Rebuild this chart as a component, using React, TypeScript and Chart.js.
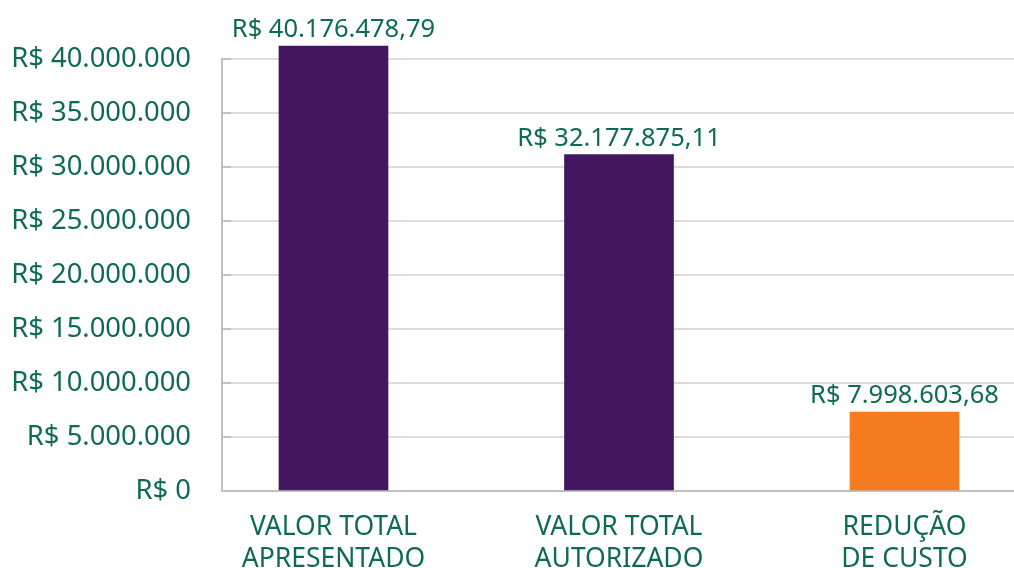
import React, { useEffect, useRef } from "react";
import { Chart, registerables } from "chart.js";

Chart.register(...registerables);

// ---- data ----
const categories: string[][] = [
  ["VALOR TOTAL", "APRESENTADO"],
  ["VALOR TOTAL", "AUTORIZADO"],
  ["REDUÇÃO", "DE CUSTO"],
];
const categoryPositions = [0, 1, 2];
const barValues = [41200000, 31150000, 7300000];
const valueLabels = ["R$ 40.176.478,79", "R$ 32.177.875,11", "R$ 7.998.603,68"];
const barColors = ["#42175F", "#42175F", "#F47B20"];
const yTickValues = [0, 5000000, 10000000, 15000000, 20000000, 25000000, 30000000, 35000000, 40000000];

const TEXT = "#0E6A57";
const FONT_FAMILY = '"Noto Sans", sans-serif';
const GRID = "#dcdcdc";
const AXIS = "#c0c0c0";

function formatBRL(v: number): string {
  const s = Math.round(v).toString();
  return "R$ " + s.replace(/\B(?=(\d{3})+(?!\d))/g, ".");
}

const valueLabelPlugin = {
  id: "valueLabels",
  afterDatasetsDraw(chart: any) {
    const ctx = chart.ctx;
    const meta = chart.getDatasetMeta(0);
    ctx.save();
    ctx.font = `25.5px ${FONT_FAMILY}`;
    ctx.fillStyle = TEXT;
    ctx.textAlign = "center";
    ctx.textBaseline = "alphabetic";
    meta.data.forEach((bar: any, i: number) => {
      ctx.fillText(valueLabels[i], bar.x, bar.y - 9);
    });
    ctx.restore();
  },
};

const innerTickPlugin = {
  id: "innerTicks",
  afterDraw(chart: any) {
    const ctx = chart.ctx;
    const y = chart.scales.y;
    const left = chart.chartArea.left;
    ctx.save();
    ctx.strokeStyle = AXIS;
    ctx.lineWidth = 2;
    y.ticks.forEach((t: any) => {
      const py = Math.round(y.getPixelForValue(t.value));
      ctx.beginPath();
      ctx.moveTo(left, py);
      ctx.lineTo(left + 9, py);
      ctx.stroke();
    });
    ctx.restore();
  },
};

export default function App() {
  const canvasRef = useRef<HTMLCanvasElement | null>(null);

  useEffect(() => {
    document.body.style.margin = "0";
    const canvas = canvasRef.current;
    if (!canvas) return;
    const chart = new Chart(canvas, {
      type: "bar",
      data: {
        datasets: [
          {
            data: categoryPositions.map((x, i) => ({ x, y: barValues[i] })),
            backgroundColor: barColors,
            barThickness: 109,
            clip: false as any,
          },
        ],
      },
      options: {
        animation: false,
        responsive: false,
        devicePixelRatio: 1,
        layout: { padding: { top: 59, left: 0, right: 0, bottom: 0 } },
        plugins: {
          legend: { display: false },
          tooltip: { enabled: false },
        },
        scales: {
          x: {
            type: "linear",
            offset: false,
            min: -0.3905,
            max: 2.3835,
            afterBuildTicks: (s: any) => {
              s.ticks = categoryPositions.map((v) => ({ value: v }));
            },
            afterFit: (s: any) => {
              s.height = 77;
            },
            ticks: {
              callback: (v: any) => categories[v as number] ?? "",
              font: { family: FONT_FAMILY, size: 26.5, lineHeight: 1.2 },
              color: TEXT,
              padding: 21,
              maxRotation: 0,
              autoSkip: false,
            },
            grid: { offset: false, drawOnChartArea: false, drawTicks: false },
            border: { color: AXIS, width: 2 },
          },
          y: {
            min: 0,
            max: 40000000,
            afterBuildTicks: (s: any) => {
              s.ticks = yTickValues.map((v) => ({ value: v }));
            },
            afterFit: (s: any) => {
              s.width = 222;
            },
            ticks: {
              callback: (v: any) => formatBRL(v as number),
              font: { family: FONT_FAMILY, size: 27.4 },
              color: TEXT,
              padding: 31,
            },
            grid: { color: GRID, lineWidth: 2, drawTicks: false },
            border: { color: AXIS, width: 2 },
          },
        },
      },
      plugins: [valueLabelPlugin, innerTickPlugin],
    });
    return () => chart.destroy();
  }, []);

  return (
    <div style={{ width: 1014, height: 568 }}>
      <canvas ref={canvasRef} width={1014} height={568} />
    </div>
  );
}
